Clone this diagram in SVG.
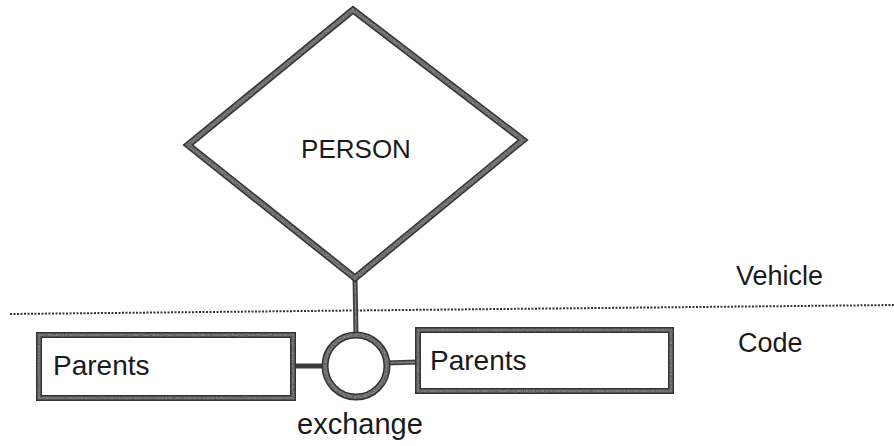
<svg xmlns="http://www.w3.org/2000/svg" width="894" height="446" viewBox="0 0 894 446">
<defs>
<filter id="speck" x="-5%" y="-5%" width="110%" height="110%">
<feTurbulence type="fractalNoise" baseFrequency="0.9" numOctaves="2" seed="4" result="noise"/>
<feColorMatrix in="noise" type="luminanceToAlpha" result="a"/>
<feComposite in="SourceGraphic" in2="a" operator="in"/>
</filter>
</defs>
<style>
.shape{fill:#fff;stroke:#333;stroke-linejoin:miter}
.tex{fill:none;stroke:#b0b0b0;filter:url(#speck)}
.conn{stroke:#3a3a3a;stroke-width:5;fill:none}
.lbl{font-family:"Liberation Sans",Arial,sans-serif;fill:#1a1a1a}
</style>
<rect width="894" height="446" fill="#fff"/>
<g id="divider">
<line x1="10" y1="314" x2="894" y2="305" stroke="#333" stroke-width="2" stroke-dasharray="2 1.5"/>
<text class="lbl" x="736" y="285" font-size="27">Vehicle</text>
<text class="lbl" x="738" y="352" font-size="27">Code</text>
</g>
<g id="connectors">
<line class="conn" x1="355" y1="276" x2="356" y2="336"/>
<line class="conn" x1="293" y1="366" x2="326" y2="366"/>
<line class="conn" x1="386" y1="363" x2="418" y2="362"/>
<line class="tex" stroke-width="2" x1="355" y1="276" x2="356" y2="336"/>
<line class="tex" stroke-width="2" x1="293" y1="366" x2="326" y2="366"/>
<line class="tex" stroke-width="2" x1="386" y1="363" x2="418" y2="362"/>
</g>
<g id="person">
<polygon class="shape" stroke-width="7" points="353,10 523,140 355,278 188,145"/>
<polygon class="tex" stroke-width="4" points="353,10 523,140 355,278 188,145"/>
<text class="lbl" x="356" y="158" font-size="26" text-anchor="middle">PERSON</text>
</g>
<g id="parents-left">
<rect class="shape" stroke-width="6" x="39" y="335" width="254" height="63"/>
<rect class="tex" stroke-width="3" x="39" y="335" width="254" height="63"/>
<text class="lbl" x="53" y="375" font-size="28">Parents</text>
</g>
<g id="exchange">
<circle class="shape" stroke-width="7" cx="356" cy="366" r="31"/>
<circle class="tex" stroke-width="4" cx="356" cy="366" r="31"/>
<text class="lbl" x="360" y="434" font-size="29" text-anchor="middle">exchange</text>
</g>
<g id="parents-right">
<rect class="shape" stroke-width="6" x="418" y="330" width="253" height="61"/>
<rect class="tex" stroke-width="3" x="418" y="330" width="253" height="61"/>
<text class="lbl" x="430" y="370" font-size="28">Parents</text>
</g>
</svg>
